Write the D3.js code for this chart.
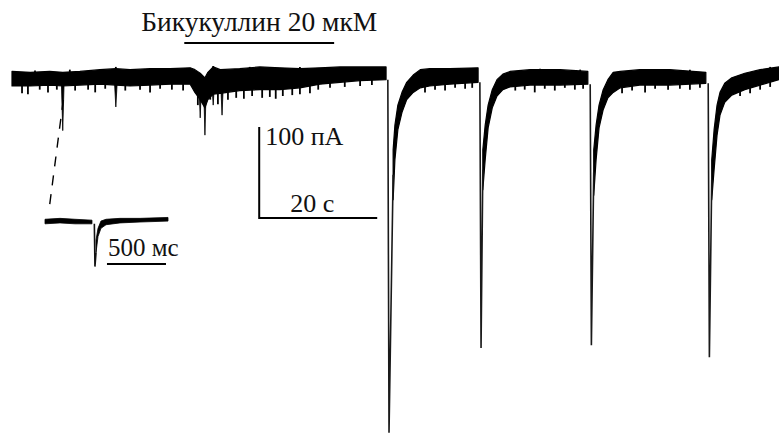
<!DOCTYPE html>
<html>
<head>
<meta charset="utf-8">
<script src="https://cdn.jsdelivr.net/npm/d3@7"></script>
<style>
  body { margin: 0; background: #fff; }
  svg text { font-family: "Liberation Serif", "Times New Roman", serif; fill: #111; }
</style>
</head>
<body>
<div id="chart"></div>
<script>
// основная запись: время (с), верхняя и нижняя граница шума (пА)
const traceT  = [0, 3.1, 6.4, 8.6, 11.5, 14.9, 17.6, 20.0, 23.4, 26.8, 30.2, 31.0, 31.9, 32.7, 33.2, 34.1, 35.3, 38.6, 42.0, 45.4, 48.8, 52.2, 55.6, 59.0, 63.4,
                 64.6, 64.9, 65.4, 66.1, 66.9, 68.0, 69.2, 70.8, 74.2, 79.0,
                 79.8, 80.2, 80.7, 81.4, 82.2, 83.2, 84.4, 87.8, 92.9, 97.6,
                 98.6, 99.0, 99.5, 100.2, 101.0, 101.9, 103.1, 106.4, 111.5, 117.6,
                 118.6, 119.0, 119.5, 120.0, 120.8, 122.0, 124.2, 126.8, 130.0];
const traceHi = [5, 4, 5, 4, 5, 7, 8, 7, 8, 8, 9, 7, 3, -2, 4, 10, 7, 8, 10, 9, 8, 9, 10, 10, 10,
                 -81, -54, -32, -18, -7, 1, 7, 8, 8, 9,
                 -81, -54, -32, -15, -4, 2, 5, 7, 7, 5,
                 -81, -54, -32, -15, -4, 4, 5, 7, 7, 4,
                 -92, -59, -32, -18, -8, -2, 3, 7, 10];
const traceLo = [-11, -11, -10, -11, -10, -9, -10, -11, -10, -9, -9, -18, -26, -35, -26, -20, -19, -16, -15, -15, -13, -9, -7, -5, -4,
                 -136, -92, -59, -40, -26, -18, -13, -11, -9, -7,
                 -125, -92, -57, -35, -22, -15, -12, -10, -10, -9,
                 -131, -92, -57, -37, -24, -18, -13, -10, -10, -8,
                 -136, -103, -65, -43, -29, -21, -15, -10, -4];

// большие разряды
const spikeT    = [63.7, 79.3, 98.0, 118.0];
const spikePeak = [-392, -299, -296, -309];

// спонтанные токи
const eventT    = [8.6, 17.6, 31.9, 32.7, 34.1, 35.6];
const eventPeak = [-60, -34, -46, -65, -32, -43];

// выбросы шума
const noiseT = [1.7, 2.7, 4.7, 6.1, 7.6, 10.7, 12.9, 14.1, 15.8, 19.2, 21.7, 23.4, 25.1, 27.1, 29.0,
                31.5, 33.6, 34.9, 36.6, 38.0, 39.3, 40.7, 42.4, 43.7, 44.7, 45.9, 47.5, 48.8, 50.5, 51.9, 53.9, 56.4, 59.0, 61.0,
                70.0, 71.7, 73.4, 75.1, 76.8, 78.0, 85.3, 86.9, 88.6, 90.3, 92.0, 93.7, 95.4, 96.8,
                103.4, 105.1, 107.3, 109.0, 111.2, 113.2, 114.9, 116.6, 123.4, 125.1, 126.8, 128.5,
                3.9, 9.8, 17.6, 25.1, 34.1, 40.3, 48.8, 57.3, 72.5, 77.6, 89.5, 96.3, 108.1, 114.9, 128.5];
const noiseI = [-19, -20, -15, -18, -15, -16, -15, -18, -14, -16, -15, -18, -14, -15, -16,
                -32, -26, -31, -26, -24, -25, -22, -24, -23, -25, -22, -21, -20, -19, -15, -13, -12, -11, -10,
                -18, -15, -16, -13, -14, -13, -16, -15, -18, -14, -16, -13, -15, -14,
                -19, -16, -18, -14, -15, -14, -15, -13, -22, -19, -15, -12,
                6, 7, 10, 8, 11, 10, 10, 10, 8, 8, 8, 7, 7, 7, 10];

// врезка: время (мс), ток (пА)
const insetT  = [0, 127, 254, 398, 432, 449, 474, 517, 635, 805, 1042];
const insetHi = [3, 4, 3, 2, -20, -7, 1, 3, 4, 4, 5];
const insetLo = [-2, -1, -2, -2, -34, -16, -7, -3, -1, 0, 1];
const insetSpikeT = 418, insetSpikePeak = -49;

// аппликация бикукуллина (с) и калибровка
const drugStart = 29.2, drugEnd = 54.6;
const barT0 = 41.9, barI0 = -156, barT = 20, barI = 100;
const insetBarT0 = 525, insetBarT = 500;

const W = 779, H = 435;
const svg = d3.select("#chart").append("svg").attr("width", W).attr("height", H);

const x = d3.scaleLinear().domain([0, 130]).range([12, 779]);
const y = d3.scaleLinear().domain([0, -100]).range([76, 167]);

const pts = traceT.map((t, i) => ({ t: t, hi: traceHi[i], lo: traceLo[i] }));
// сегменты между разрядами
const segs = d3.groups(pts, d => d3.bisect(spikeT, d.t)).map(g => g[1]);

const area = d3.area().x(d => x(d.t)).y0(d => y(d.lo)).y1(d => y(d.hi));

svg.selectAll(".seg").data(segs).enter().append("path")
  .attr("class", "seg")
  .attr("d", area)
  .attr("fill", "#000")
  .attr("stroke", "#000")
  .attr("stroke-width", 1.2)
  .attr("stroke-linejoin", "round");

// разряды
svg.selectAll(".spike").data(spikeT).enter().append("path")
  .attr("class", "spike")
  .attr("d", (t, i) => {
    const prev = segs[i][segs[i].length - 1];
    const next = segs[i + 1][0];
    return "M" + x(t) + "," + y(prev.lo) +
      "L" + x(t + 0.2) + "," + y(spikePeak[i]) +
      "L" + x(next.t) + "," + y((next.hi + next.lo) / 2);
  })
  .attr("fill", "none")
  .attr("stroke", "#1a1a1a")
  .attr("stroke-width", 1.6);

// спонтанные токи
svg.selectAll(".event").data(eventT).enter().append("path")
  .attr("d", (t, i) => "M" + (x(t) - 1.4) + "," + y(-6) + "L" + x(t) + "," + y(eventPeak[i]) +
    "L" + (x(t) + 1.4) + "," + y(-6) + "Z")
  .attr("fill", "#000")
  .attr("stroke", "#000")
  .attr("stroke-width", 0.8);

svg.selectAll(".noise").data(noiseT).enter().append("line")
  .attr("x1", d => x(d)).attr("x2", d => x(d))
  .attr("y1", y(0)).attr("y2", (d, i) => y(noiseI[i]))
  .attr("stroke", "#000")
  .attr("stroke-width", 1.8);

// аппликация
svg.append("line")
  .attr("x1", x(drugStart)).attr("x2", x(drugEnd))
  .attr("y1", 43).attr("y2", 43)
  .attr("stroke", "#000").attr("stroke-width", 2);

svg.append("text")
  .attr("x", x((drugStart + drugEnd) / 2))
  .attr("y", 31)
  .attr("text-anchor", "middle")
  .style("font-size", "27.5px")
  .text("Бикукуллин 20 мкМ");

// калибровка
svg.append("path")
  .attr("d", "M" + x(barT0) + "," + y(barI0 + barI) + "V" + y(barI0) + "H" + x(barT0 + barT))
  .attr("fill", "none")
  .attr("stroke", "#000")
  .attr("stroke-width", 2);

svg.append("text")
  .attr("x", x(barT0) + 6).attr("y", y(barI0 + barI) + 18)
  .style("font-size", "26px")
  .text("100 пА");

svg.append("text")
  .attr("x", x(barT0 + barT / 2) - 6).attr("y", y(barI0) - 6)
  .attr("text-anchor", "middle")
  .style("font-size", "26px")
  .text("20 с");

// врезка
const xi = d3.scaleLinear().domain([0, 1042]).range([45, 168]);
const yi = d3.scaleLinear().domain([0, -100]).range([222, 313]);

const ipts = insetT.map((t, i) => ({ t: t, hi: insetHi[i], lo: insetLo[i] }));
const iseg = [ipts.filter(d => d.t < insetSpikeT), ipts.filter(d => d.t > insetSpikeT)];
const iarea = d3.area().x(d => xi(d.t)).y0(d => yi(d.lo)).y1(d => yi(d.hi));

svg.selectAll(".iseg").data(iseg).enter().append("path")
  .attr("d", iarea)
  .attr("fill", "#000")
  .attr("stroke", "#000")
  .attr("stroke-width", 0.8);

const ip = iseg[0][iseg[0].length - 1], inx = iseg[1][0];
svg.append("path")
  .attr("d", "M" + xi(insetSpikeT) + "," + yi(ip.lo) + "L" + (xi(insetSpikeT) + 0.6) + "," + yi(insetSpikePeak) +
    "L" + xi(inx.t) + "," + yi(inx.lo))
  .attr("fill", "none")
  .attr("stroke", "#111")
  .attr("stroke-width", 1.6);

svg.append("line")
  .attr("x1", xi(insetBarT0)).attr("x2", xi(insetBarT0 + insetBarT))
  .attr("y1", 264).attr("y2", 264)
  .attr("stroke", "#000").attr("stroke-width", 2);

svg.append("text")
  .attr("x", xi(insetBarT0) + 1).attr("y", 256)
  .style("font-size", "25px")
  .text("500 мс");

// пунктир к врезке
svg.append("line")
  .attr("x1", x(eventT[0]) + 0.5).attr("y1", 100)
  .attr("x2", 49).attr("y2", 210)
  .attr("stroke", "#000")
  .attr("stroke-width", 1.4)
  .attr("stroke-dasharray", "10,9");
</script>
</body>
</html>
